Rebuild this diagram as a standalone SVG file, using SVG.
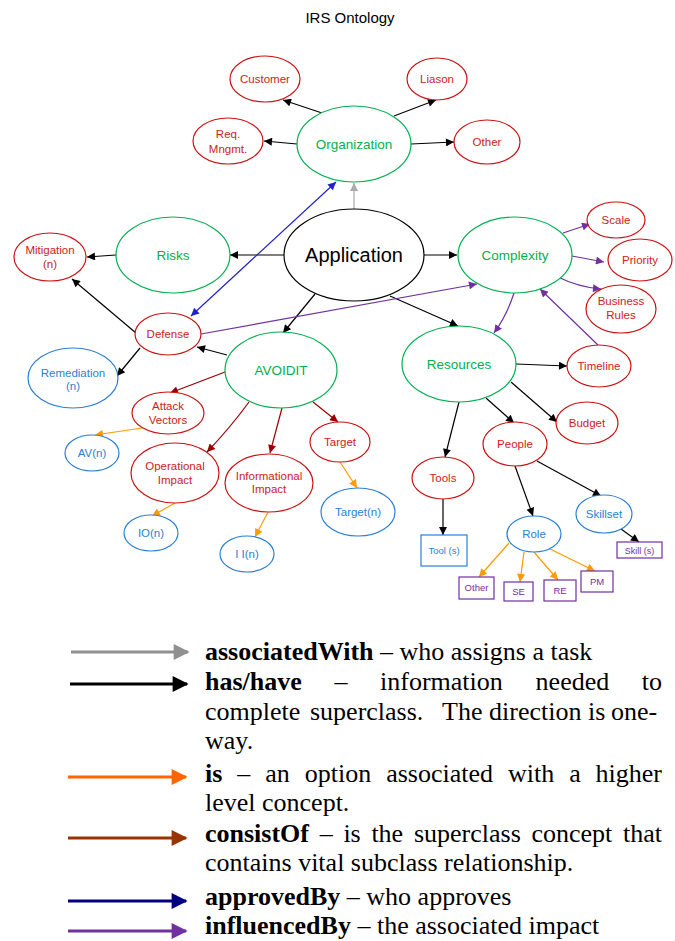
<svg xmlns="http://www.w3.org/2000/svg" width="675" height="941" viewBox="0 0 675 941">
<style>
text{font-family:"Liberation Sans",Arial,sans-serif;text-anchor:middle}
.r ellipse{fill:#fff;stroke:#cc1111;stroke-width:1.2}
.r text{fill:#cc2222;font-size:11.5px}
.g ellipse{fill:#fff;stroke:#00b050;stroke-width:1.2}
.g text{fill:#00b050;font-size:13.5px}
.b ellipse,.b rect{fill:#fff;stroke:#2a7fd4;stroke-width:1.2}
.b text{fill:#2a7fd4;font-size:11.5px}
.p rect{fill:#fff;stroke:#7030a0;stroke-width:1.2}
.p text{fill:#7030a0;font-size:9.5px}
.e path{fill:none;stroke-width:1.2}
.k{stroke:#000;marker-end:url(#mk)}
.gy{stroke:#aaa;marker-end:url(#mg)}
.pu{stroke:#7030a0;marker-end:url(#mp)}
.bl{stroke:#2222cc;marker-end:url(#mb);marker-start:url(#mb)}
.dr{stroke:#990000;marker-end:url(#md)}
.or{stroke:#ff9900;marker-end:url(#mo)}
.lg text{font-family:"Liberation Serif","Times New Roman",serif;font-size:26px;text-anchor:start;fill:#000}
.lg .bd{font-weight:bold}
.lg line{stroke-width:3}
</style>
<defs>
<marker id="mk" viewBox="0 0 10 10" refX="10" refY="5" markerWidth="10" markerHeight="8" markerUnits="userSpaceOnUse" orient="auto-start-reverse"><path d="M0,0L10,5L0,10z" fill="#000"/></marker>
<marker id="mg" viewBox="0 0 10 10" refX="10" refY="5" markerWidth="10" markerHeight="8" markerUnits="userSpaceOnUse" orient="auto-start-reverse"><path d="M0,0L10,5L0,10z" fill="#aaa"/></marker>
<marker id="mp" viewBox="0 0 10 10" refX="10" refY="5" markerWidth="10" markerHeight="8" markerUnits="userSpaceOnUse" orient="auto-start-reverse"><path d="M0,0L10,5L0,10z" fill="#7030a0"/></marker>
<marker id="mb" viewBox="0 0 10 10" refX="10" refY="5" markerWidth="10" markerHeight="8" markerUnits="userSpaceOnUse" orient="auto-start-reverse"><path d="M0,0L10,5L0,10z" fill="#2222cc"/></marker>
<marker id="md" viewBox="0 0 10 10" refX="10" refY="5" markerWidth="10" markerHeight="8" markerUnits="userSpaceOnUse" orient="auto-start-reverse"><path d="M0,0L10,5L0,10z" fill="#990000"/></marker>
<marker id="mo" viewBox="0 0 10 10" refX="10" refY="5" markerWidth="10" markerHeight="8" markerUnits="userSpaceOnUse" orient="auto-start-reverse"><path d="M0,0L10,5L0,10z" fill="#ff9900"/></marker>
<marker id="L1" viewBox="0 0 10 10" refX="9" refY="5" markerWidth="18" markerHeight="16" markerUnits="userSpaceOnUse" orient="auto"><path d="M0,0L10,5L0,10z" fill="#909090"/></marker>
<marker id="L2" viewBox="0 0 10 10" refX="9" refY="5" markerWidth="18" markerHeight="16" markerUnits="userSpaceOnUse" orient="auto"><path d="M0,0L10,5L0,10z" fill="#000"/></marker>
<marker id="L3" viewBox="0 0 10 10" refX="9" refY="5" markerWidth="18" markerHeight="16" markerUnits="userSpaceOnUse" orient="auto"><path d="M0,0L10,5L0,10z" fill="#ff6600"/></marker>
<marker id="L4" viewBox="0 0 10 10" refX="9" refY="5" markerWidth="18" markerHeight="16" markerUnits="userSpaceOnUse" orient="auto"><path d="M0,0L10,5L0,10z" fill="#993300"/></marker>
<marker id="L5" viewBox="0 0 10 10" refX="9" refY="5" markerWidth="18" markerHeight="16" markerUnits="userSpaceOnUse" orient="auto"><path d="M0,0L10,5L0,10z" fill="#000080"/></marker>
<marker id="L6" viewBox="0 0 10 10" refX="9" refY="5" markerWidth="18" markerHeight="16" markerUnits="userSpaceOnUse" orient="auto"><path d="M0,0L10,5L0,10z" fill="#7030a0"/></marker>
</defs>
<rect width="675" height="941" fill="#fff"/>
<text x="350" y="23" style="font-size:15px;fill:#000">IRS Ontology</text>

<g id="edges" class="e">
<path class="k" d="M322,113L283,100"/>
<path class="k" d="M394,116L436,100"/>
<path class="k" d="M297,144L264,141"/>
<path class="k" d="M411,144L454,142"/>
<path class="gy" d="M354,209L354,183"/>
<path class="k" d="M284,255L230,255"/>
<path class="k" d="M116,255L87,257"/>
<path class="k" d="M136,333L72,279"/>
<path class="k" d="M140,348L117,376"/>
<path class="k" d="M227,355L197,347"/>
<path class="k" d="M315,294L283,333"/>
<path class="k" d="M424,255L457,255"/>
<path class="k" d="M390,296L458,326"/>
<path class="k" d="M516,364L567,366"/>
<path class="k" d="M511,382L557,422"/>
<path class="k" d="M486,398L514,423"/>
<path class="k" d="M459,402L445,457"/>
<path class="k" d="M443,498L443,535"/>
<path class="k" d="M515,466L533,516"/>
<path class="k" d="M537,461L601,496"/>
<path class="k" d="M621,529L639,542"/>
<path class="pu" d="M201,334L477,284"/>
<path class="pu" d="M563,233L590,224"/>
<path class="pu" d="M572,256L604,262"/>
<path class="pu" d="M558,277Q578,287 601,289"/>
<path class="pu" d="M514,293Q507,315 494,333"/>
<path class="pu" d="M598,345L540,289"/>
<path class="bl" d="M191,316L336,182"/>
<path class="dr" d="M225,372L170,393"/>
<path class="dr" d="M249,402Q230,428 207,452"/>
<path class="dr" d="M282,408L270,453"/>
<path class="dr" d="M313,402L338,422"/>
<path class="or" d="M142,428L95,435"/>
<path class="or" d="M175,503L152,516"/>
<path class="or" d="M268,512L255,537"/>
<path class="or" d="M340,462L357,488"/>
<path class="or" d="M509,543L479,577"/>
<path class="or" d="M524,552L520,582"/>
<path class="or" d="M534,552L558,580"/>
<path class="or" d="M550,549L595,571"/>
</g>

<g id="customer" class="r"><ellipse cx="265" cy="79" rx="35" ry="23"/><text x="265" y="83">Customer</text></g>
<g id="liason" class="r"><ellipse cx="437" cy="79" rx="30" ry="21"/><text x="437" y="83">Liason</text></g>
<g id="reqmngmt" class="r"><ellipse cx="228" cy="141" rx="35" ry="23"/><text x="228" y="138">Req.</text><text x="228" y="153">Mngmt.</text></g>
<g id="organization" class="g"><ellipse cx="354" cy="144" rx="57" ry="38"/><text x="354" y="149">Organization</text></g>
<g id="other-org" class="r"><ellipse cx="487" cy="142" rx="33" ry="22"/><text x="487" y="146">Other</text></g>
<g id="application"><ellipse cx="354" cy="255" rx="70" ry="46" fill="#fff" stroke="#000" stroke-width="1.2"/><text x="354" y="262" style="font-size:20px;fill:#000">Application</text></g>
<g id="risks" class="g"><ellipse cx="173" cy="255" rx="57" ry="38"/><text x="173" y="260">Risks</text></g>
<g id="mitigation" class="r"><ellipse cx="50" cy="257" rx="36" ry="24"/><text x="50" y="254">Mitigation</text><text x="50" y="268">(n)</text></g>
<g id="defense" class="r"><ellipse cx="168" cy="334" rx="33" ry="21"/><text x="168" y="338">Defense</text></g>
<g id="remediation" class="b"><ellipse cx="73" cy="378" rx="45" ry="30"/><text x="73" y="377">Remediation</text><text x="73" y="390">(n)</text></g>
<g id="avoidit" class="g"><ellipse cx="281" cy="370" rx="56" ry="38"/><text x="281" y="375">AVOIDIT</text></g>
<g id="complexity" class="g"><ellipse cx="515" cy="255" rx="57" ry="38"/><text x="515" y="260">Complexity</text></g>
<g id="scale" class="r"><ellipse cx="616" cy="220" rx="29" ry="18"/><text x="616" y="224">Scale</text></g>
<g id="priority" class="r"><ellipse cx="640" cy="260" rx="32" ry="21"/><text x="640" y="264">Priority</text></g>
<g id="businessrules" class="r"><ellipse cx="621" cy="309" rx="35" ry="24"/><text x="621" y="305">Business</text><text x="621" y="319">Rules</text></g>
<g id="resources" class="g"><ellipse cx="459" cy="364" rx="57" ry="38"/><text x="459" y="369">Resources</text></g>
<g id="timeline" class="r"><ellipse cx="599" cy="366" rx="32" ry="21"/><text x="599" y="370">Timeline</text></g>
<g id="budget" class="r"><ellipse cx="587" cy="423" rx="31" ry="21"/><text x="587" y="427">Budget</text></g>
<g id="people" class="r"><ellipse cx="515" cy="444" rx="32" ry="22"/><text x="515" y="448">People</text></g>
<g id="tools" class="r"><ellipse cx="443" cy="478" rx="31" ry="21"/><text x="443" y="482">Tools</text></g>
<g id="tool-s" class="b"><rect x="421" y="535" width="46" height="31"/><text x="444" y="554" style="font-size:9.5px">Tool (s)</text></g>
<g id="role" class="b"><ellipse cx="534" cy="534" rx="27" ry="18"/><text x="534" y="538">Role</text></g>
<g id="skillset" class="b"><ellipse cx="604" cy="514" rx="28" ry="19"/><text x="604" y="518">Skillset</text></g>
<g id="skill-s" class="p"><rect x="617" y="542" width="45" height="16"/><text x="639.5" y="553.5" style="font-size:9px">Skill (s)</text></g>
<g id="other-role" class="p"><rect x="459" y="577" width="35" height="22"/><text x="476.5" y="591">Other</text></g>
<g id="se" class="p"><rect x="504" y="582" width="29" height="19"/><text x="518.5" y="595">SE</text></g>
<g id="re" class="p"><rect x="544" y="580" width="32" height="21"/><text x="560" y="594">RE</text></g>
<g id="pm" class="p"><rect x="581" y="571" width="32" height="21"/><text x="597" y="585">PM</text></g>
<g id="attackvectors" class="r"><ellipse cx="168" cy="413" rx="36" ry="21"/><text x="168" y="410">Attack</text><text x="168" y="424">Vectors</text></g>
<g id="av-n" class="b"><ellipse cx="92" cy="453" rx="27" ry="18"/><text x="92" y="457">AV(n)</text></g>
<g id="operational" class="r"><ellipse cx="175" cy="473" rx="44" ry="30"/><text x="175" y="470">Operational</text><text x="175" y="484">Impact</text></g>
<g id="informational" class="r"><ellipse cx="269" cy="483" rx="44" ry="29"/><text x="269" y="480">Informational</text><text x="269" y="493">Impact</text></g>
<g id="target" class="r"><ellipse cx="340" cy="442" rx="30" ry="20"/><text x="340" y="446">Target</text></g>
<g id="target-n" class="b"><ellipse cx="358" cy="512" rx="37" ry="24"/><text x="358" y="516">Target(n)</text></g>
<g id="io-n" class="b"><ellipse cx="151" cy="533" rx="27" ry="18"/><text x="151" y="537">IO(n)</text></g>
<g id="ii-n" class="b"><ellipse cx="247" cy="554" rx="27" ry="18"/><text x="247" y="558">I I(n)</text></g>

<g id="legend" class="lg">
<line x1="71" y1="652" x2="188" y2="652" stroke="#909090" marker-end="url(#L1)"/>
<line x1="70" y1="684" x2="187" y2="684" stroke="#000" marker-end="url(#L2)"/>
<line x1="68" y1="777" x2="186" y2="777" stroke="#ff6600" marker-end="url(#L3)"/>
<line x1="68" y1="838" x2="186" y2="838" stroke="#993300" marker-end="url(#L4)"/>
<line x1="68" y1="901" x2="186" y2="901" stroke="#000080" marker-end="url(#L5)"/>
<line x1="68" y1="931" x2="186" y2="931" stroke="#7030a0" marker-end="url(#L6)"/>
<text x="205" y="660"><tspan class="bd">associatedWith</tspan> – who assigns a task</text>
<text y="690"><tspan class="bd" x="205">has/have</tspan><tspan x="334.5">–</tspan><tspan x="380">information</tspan><tspan x="535.6">needed</tspan><tspan x="641.8">to</tspan></text>
<text y="720"><tspan x="205">complete</tspan><tspan x="310">superclass.</tspan><tspan x="442">The</tspan><tspan x="489">direction</tspan><tspan x="588">is</tspan><tspan x="611">one-</tspan></text>
<text x="205" y="749">way.</text>
<text y="782"><tspan class="bd" x="205">is</tspan><tspan x="237.3">–</tspan><tspan x="265.2">an</tspan><tspan x="304.7">option</tspan><tspan x="386.2">associated</tspan><tspan x="508">with</tspan><tspan x="569.2">a</tspan><tspan x="595.6">higher</tspan></text>
<text x="205" y="811">level concept.</text>
<text y="842"><tspan class="bd" x="205">consistOf</tspan><tspan x="319.7">–</tspan><tspan x="343.4">is</tspan><tspan x="371.4">the</tspan><tspan x="413.9">superclass</tspan><tspan x="531.5">concept</tspan><tspan x="623.1">that</tspan></text>
<text x="205" y="871">contains vital subclass relationship.</text>
<text x="205" y="905"><tspan class="bd">approvedBy</tspan> – who approves</text>
<text x="205" y="934"><tspan class="bd">influencedBy</tspan> – the associated impact</text>
</g>
</svg>
